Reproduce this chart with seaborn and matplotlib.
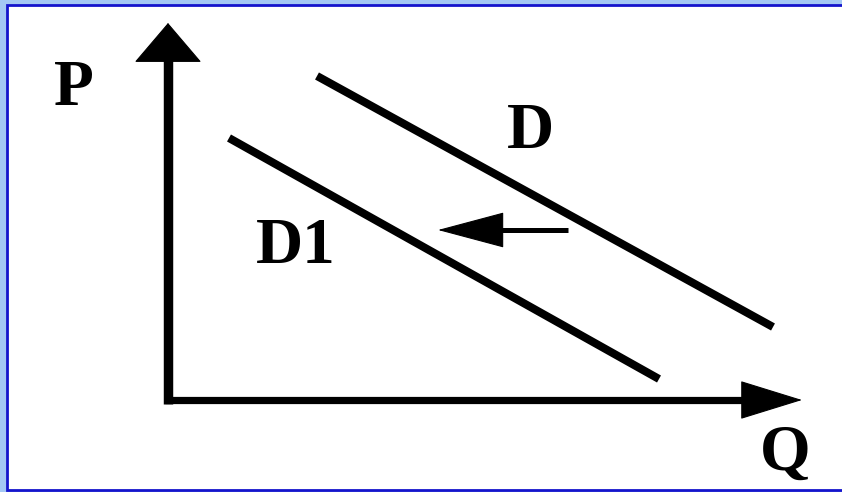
import matplotlib
matplotlib.use("Agg")
import matplotlib.pyplot as plt
import matplotlib.patches as mpatches
import seaborn as sns
import pandas as pd

# ---- data (diagram units: q to the right, p downward as in the picture) ----
curve_names = ["D", "D1"]
D_q = [317, 773]
D_p = [76, 327]
D1_q = [229, 659]
D1_p = [138, 379]

label_text = ["P", "Q", "D", "D1"]
label_q = [74, 785, 530, 296]
label_p = [105, 470, 148, 263]

origin = (168, 400)
p_axis_tip = (168, 23)
q_axis_tip = (802, 400)
shift_tail = (568, 230)
shift_tip = (438, 230)

sns.set_theme(style="white")
plt.rcParams["font.family"] = ["Liberation Serif", "DejaVu Serif"]

fig = plt.figure(figsize=(8.42, 4.92), dpi=100)
fig.patch.set_facecolor("#a4c8f4")
ax = fig.add_axes([0, 0, 1, 1])
ax.set_xlim(0, 842)
ax.set_ylim(492, 0)
ax.set_axis_off()

# frame
ax.add_patch(mpatches.Rectangle((6.5, 5), 850, 485, facecolor="white",
                                edgecolor="#1414cc", lw=2.0, zorder=0))

df = pd.DataFrame({
    "q": D_q + D1_q,
    "p": D_p + D1_p,
    "curve": [curve_names[0]] * 2 + [curve_names[1]] * 2,
})
sns.lineplot(data=df, x="q", y="p", hue="curve", units="curve", estimator=None,
             palette=["black", "black"], lw=5.8, legend=False, ax=ax,
             solid_capstyle="butt")

# axes shafts
ax.plot([origin[0], origin[0]], [origin[1] + 3.5, p_axis_tip[1] + 30], color="black",
        lw=6.8, solid_capstyle="butt")
ax.plot([origin[0] - 3.5, q_axis_tip[0] - 45], [origin[1], origin[1]], color="black",
        lw=5.2, solid_capstyle="butt")
ax.plot([shift_tail[0], shift_tip[0] + 40], [shift_tail[1], shift_tip[1]], color="black",
        lw=3.6, solid_capstyle="butt")

def head(tip, base, hl, hw):
    ax.annotate("", xy=tip, xytext=base,
                arrowprops=dict(arrowstyle=f"-|>,head_length={hl},head_width={hw}",
                                color="black", lw=0.8, shrinkA=0, shrinkB=0,
                                mutation_scale=10))

head(p_axis_tip, (p_axis_tip[0], p_axis_tip[1] + 40), 2.7, 2.3)
head(q_axis_tip, (q_axis_tip[0] - 60, q_axis_tip[1]), 4.2, 1.3)
head(shift_tip, (shift_tip[0] + 65, shift_tip[1]), 4.5, 1.2)

for t, x, y in zip(label_text, label_q, label_p):
    ax.text(x, y, t, ha="center", va="baseline", fontsize=47,
            fontweight="bold", color="black")

fig.savefig("out.png", dpi=100, facecolor=fig.get_facecolor())
